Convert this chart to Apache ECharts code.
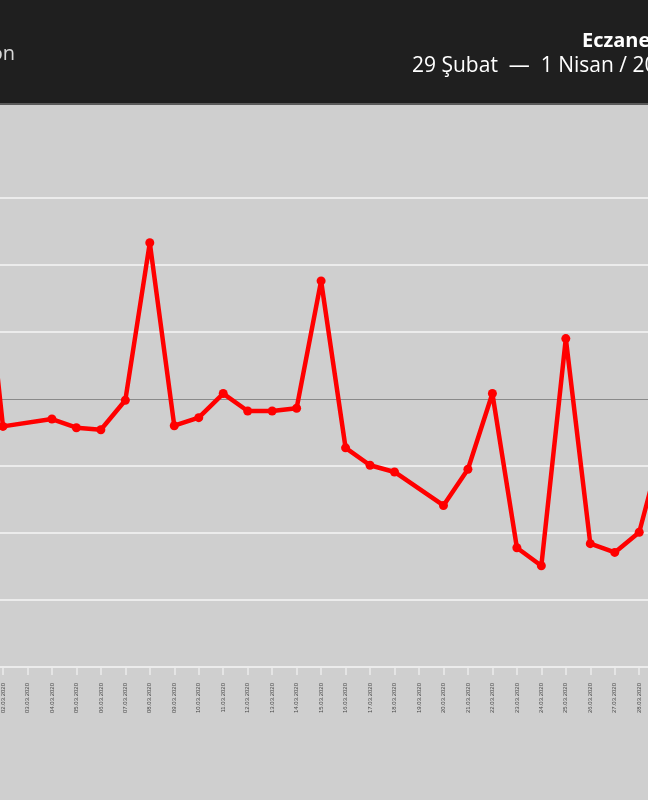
<!DOCTYPE html>
<html>
<head>
<meta charset="utf-8">
<script src="https://cdn.jsdelivr.net/npm/echarts@6/dist/echarts.min.js"></script>
<style>
  html, body { margin: 0; padding: 0; background: #cfcfcf; overflow: hidden; width: 648px; height: 800px; position: relative; }
  #chart { position: absolute; left: -40px; top: 0; width: 728px; height: 800px; }
</style>
</head>
<body>
<div id="chart"></div>
<script>
// Categories (dates) shown on the x axis
const dates = [
  '01.03.2020','02.03.2020','03.03.2020','04.03.2020','05.03.2020','06.03.2020','07.03.2020',
  '08.03.2020','09.03.2020','10.03.2020','11.03.2020','12.03.2020','13.03.2020','14.03.2020',
  '15.03.2020','16.03.2020','17.03.2020','18.03.2020','19.03.2020','20.03.2020','21.03.2020',
  '22.03.2020','23.03.2020','24.03.2020','25.03.2020','26.03.2020','27.03.2020','28.03.2020',
  '29.03.2020'
];
// Series values (null = missing day, line connects across)
const values = [
  29.9, -4.1, null, -3.0, -4.3, -4.6, -0.2,
  23.3, -4.0, -2.8, 0.8, -1.8, -1.8, -1.4,
  17.6, -7.3, -9.9, -10.9, null, -15.9, -10.5,
  0.8, -22.2, -24.9, 9.0, -21.6, -22.9, -19.9,
  -6.1
];
// Horizontal grid lines and baseline
const gridValues = [-30, -20, -10, 10, 20, 30];
const baselineValue = 0;
const yMin = -40;
const yMax = 44;

// Header texts
const titleText = 'Eczaneler';
const periodText = '29 Şubat  —  1 Nisan / 2020';
const sourceText = 'Yandex Navigasyon';

const OFF = 40; // container shifted left by this much (the view is a crop)
const chart = echarts.init(document.getElementById('chart'));
chart.setOption({
  backgroundColor: '#cfcfcf',
  animation: false,
  grid: { left: OFF - 21.5, right: 728 - (OFF + 663.7), top: 104, bottom: 133, containLabel: false },
  xAxis: {
    type: 'category',
    data: dates,
    boundaryGap: false,
    axisLine: { show: true, onZero: false, lineStyle: { color: '#ececec', width: 2 } },
    axisTick: { show: true, alignWithLabel: true, length: 8, lineStyle: { color: '#ececec', width: 1.5 } },
    axisLabel: {
      interval: 0, rotate: 90, fontSize: 6, color: '#4a4a4a',
      fontFamily: 'Liberation Sans', margin: 16
    },
    splitLine: { show: false }
  },
  yAxis: {
    type: 'value',
    min: yMin, max: yMax,
    axisLine: { show: false },
    axisTick: { show: false },
    axisLabel: { show: false },
    splitLine: { show: false }
  },
  series: [
    {
      type: 'line',
      data: [],
      z: 1,
      silent: true,
      markLine: {
        silent: true,
        symbol: 'none',
        label: { show: false },
        animation: false,
        data: gridValues.map(v => ({ yAxis: v, lineStyle: { color: '#ececec', width: 2, type: 'solid' } }))
          .concat([{ yAxis: baselineValue, lineStyle: { color: '#8a8a8a', width: 1.2, type: 'solid' } }])
      }
    },
    {
      type: 'line',
      data: values,
      z: 5,
      connectNulls: true,
      symbol: 'circle',
      symbolSize: 9,
      showAllSymbol: true,
      lineStyle: { color: '#ff0000', width: 4.5 },
      itemStyle: { color: '#ff0000' }
    }
  ],
  graphic: [
    { type: 'rect', z: 100, shape: { x: 0, y: 0, width: 728, height: 104 }, style: { fill: '#1f1f1f' } },
    { type: 'rect', z: 101, shape: { x: 0, y: 103, width: 728, height: 2 }, style: { fill: '#5a5a5a' } },
    { type: 'text', z: 102, x: OFF + 582, y: 41, style: { text: titleText, fill: '#ffffff', font: 'bold 20px "Open Sans"', textAlign: 'left', textVerticalAlign: 'middle' } },
    { type: 'text', z: 102, x: OFF + 412, y: 66, style: { text: periodText, fill: '#ffffff', font: '21px "Open Sans"', textAlign: 'left', textVerticalAlign: 'middle' } },
    { type: 'text', z: 102, x: OFF + 15, y: 54, style: { text: sourceText, fill: '#d8d8d8', font: '20px "Open Sans"', textAlign: 'right', textVerticalAlign: 'middle' } }
  ]
});
</script>
</body>
</html>
